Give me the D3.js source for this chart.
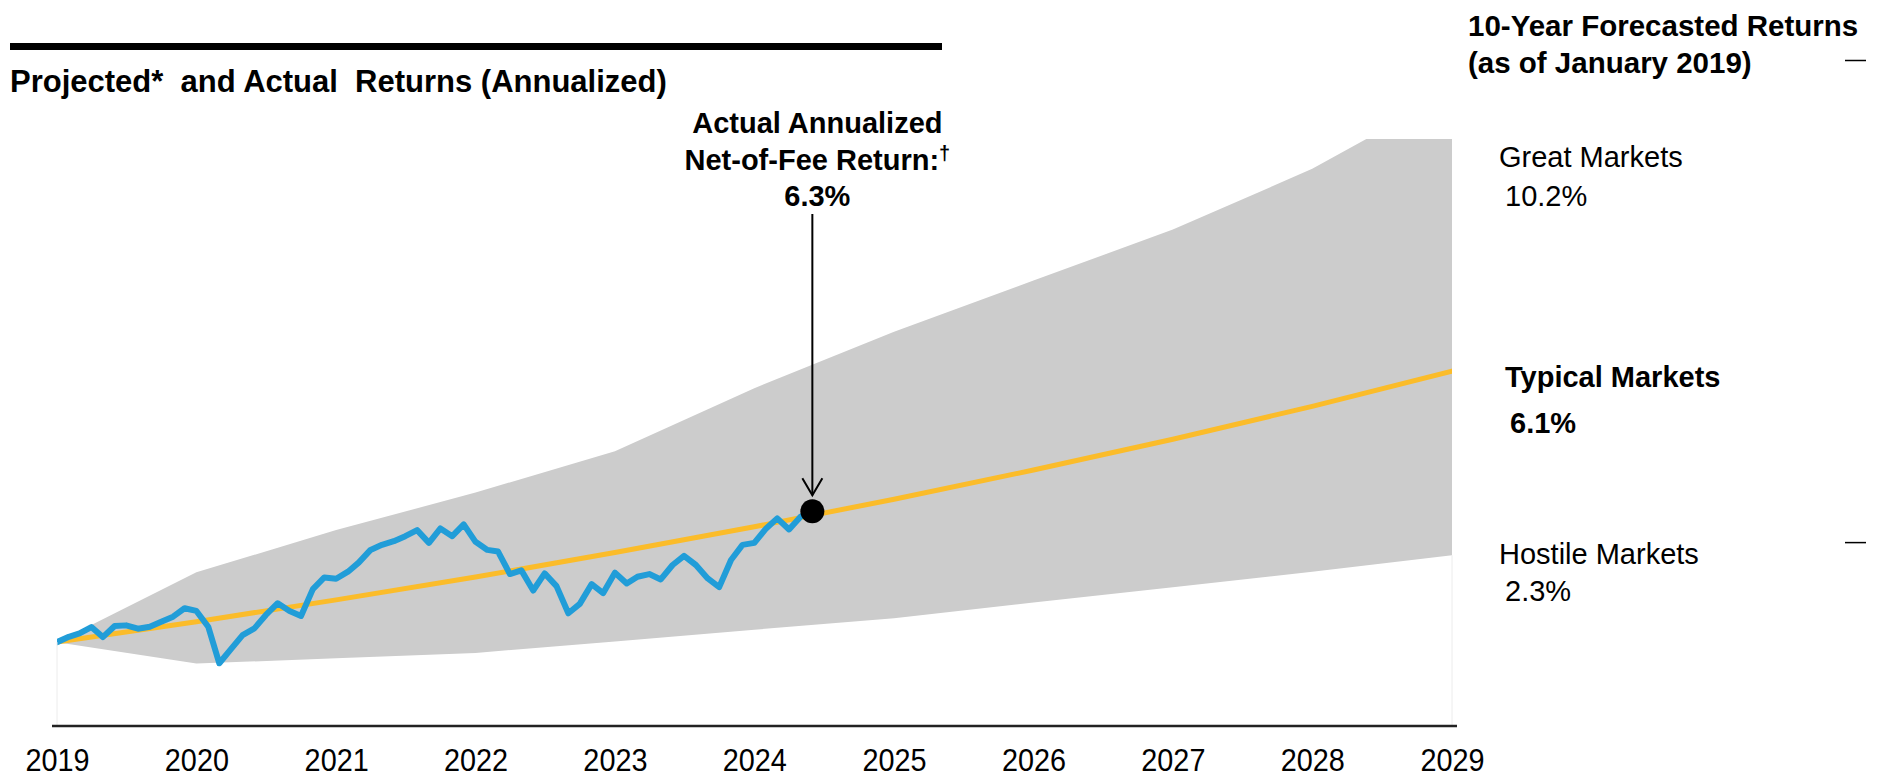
<!DOCTYPE html>
<html>
<head>
<meta charset="utf-8">
<script src="https://cdn.jsdelivr.net/npm/d3@7"></script>
<style>
  html, body { margin: 0; padding: 0; background: #fff; }
  svg { display: block; font-family: "Liberation Sans", Arial, Helvetica, sans-serif; }
</style>
</head>
<body>
<svg id="chart" width="1899" height="778"></svg>
<script>
// Year tick labels along the bottom axis
const years = [2019, 2020, 2021, 2022, 2023, 2024, 2025, 2026, 2027, 2028, 2029];

// Growth of $1 under the forecast scenarios, one value per year-end
const typicalPath = [1.000, 1.061, 1.126, 1.194, 1.267, 1.344, 1.426, 1.513, 1.605, 1.703, 1.808];
const greatPath   = [1.000, 1.208, 1.334, 1.446, 1.569, 1.757, 1.925, 2.078, 2.230, 2.411, 2.641];
const hostilePath = [1.000, 0.936, 0.952, 0.968, 1.002, 1.037, 1.071, 1.118, 1.164, 1.210, 1.259];

// Actual portfolio growth of $1, month-end values starting January 2019
const actualStart = new Date(2019, 0, 1);
const actualMonthly = [
  1.000, 1.016, 1.026, 1.045, 1.015, 1.048, 1.050, 1.040, 1.046, 1.061, 1.076, 1.101,
  1.093, 1.046, 0.937, 0.980, 1.021, 1.041, 1.081, 1.116, 1.093, 1.078, 1.158, 1.193,
  1.189, 1.210, 1.237, 1.275, 1.290, 1.301, 1.316, 1.334, 1.296, 1.339, 1.316, 1.351,
  1.299, 1.275, 1.270, 1.203, 1.214, 1.154, 1.205, 1.167, 1.086, 1.114, 1.173, 1.146,
  1.207, 1.175, 1.195, 1.203, 1.187, 1.230, 1.257, 1.230, 1.190, 1.164, 1.245, 1.290,
  1.296, 1.339, 1.369, 1.336, 1.374, 1.390
];

// Latest actual value and its annualized return label
const actualLatest = 1.390;
const actualAnnualized = "6.3%";

// Scenario labels on the right
const scenarioNames = ["Great Markets", "Typical Markets", "Hostile Markets"];
const scenarioRates = ["10.2%", "6.1%", "2.3%"];

const svg = d3.select("#chart");

const x = d3.scaleTime()
  .domain([new Date(2019, 0, 1), new Date(2029, 0, 1)])
  .range([57, 1452]);
const y = d3.scaleLinear()
  .domain([0.75, 2.5])
  .range([726, 139]);

const yearDate = yr => new Date(yr, 0, 1);
const monthDate = i => d3.timeMonth.offset(actualStart, i);

// Clip the plot contents to the plot area
svg.append("defs").append("clipPath").attr("id", "plot-clip")
  .append("rect")
  .attr("x", x.range()[0]).attr("y", y.range()[1])
  .attr("width", x.range()[1] - x.range()[0])
  .attr("height", y.range()[0] - y.range()[1]);

const plot = svg.append("g").attr("clip-path", "url(#plot-clip)");

// Faint plot-area borders at each end, below the shaded range
[0, years.length - 1].forEach(i => {
  const xx = x(yearDate(years[i]));
  svg.append("line")
    .attr("x1", xx).attr("x2", xx)
    .attr("y1", y(hostilePath[i])).attr("y2", y.range()[0])
    .attr("stroke", "#ececec").attr("stroke-width", 1);
});

// Shaded range between hostile and great market outcomes
const band = years.map((yr, i) => ({ date: yearDate(yr), lo: hostilePath[i], hi: greatPath[i] }));
plot.append("path")
  .datum(band)
  .attr("fill", "#cccccc")
  .attr("d", d3.area()
    .x(d => x(d.date))
    .y0(d => y(d.lo))
    .y1(d => y(d.hi)));

// Typical markets projection
plot.append("path")
  .datum(years.map((yr, i) => ({ date: yearDate(yr), v: typicalPath[i] })))
  .attr("fill", "none")
  .attr("stroke", "#fbbc2a")
  .attr("stroke-width", 5)
  .attr("stroke-linecap", "round")
  .attr("d", d3.line().x(d => x(d.date)).y(d => y(d.v)).curve(d3.curveMonotoneX));

// Actual results
plot.append("path")
  .datum(actualMonthly.map((v, i) => ({ date: monthDate(i), v })))
  .attr("fill", "none")
  .attr("stroke", "#219dd8")
  .attr("stroke-width", 6)
  .attr("stroke-linejoin", "round")
  .attr("stroke-linecap", "round")
  .attr("d", d3.line().x(d => x(d.date)).y(d => y(d.v)));

// Marker at the latest actual value
const lastDate = monthDate(actualMonthly.length - 1);
const dotX = x(lastDate), dotY = y(actualLatest);
svg.append("circle")
  .attr("cx", dotX).attr("cy", dotY).attr("r", 12)
  .attr("fill", "#000");

// Callout arrow pointing down at the marker
const arrowTop = 214, arrowTip = dotY - 16;
svg.append("line")
  .attr("x1", dotX).attr("x2", dotX)
  .attr("y1", arrowTop).attr("y2", arrowTip)
  .attr("stroke", "#000").attr("stroke-width", 2);
svg.append("path")
  .attr("d", `M${dotX - 10},${arrowTip - 17} L${dotX},${arrowTip} L${dotX + 10},${arrowTip - 17}`)
  .attr("fill", "none").attr("stroke", "#000").attr("stroke-width", 2);

// Callout text
const callout = svg.append("text")
  .attr("text-anchor", "middle")
  .attr("font-weight", "bold")
  .attr("font-size", 29)
  .attr("fill", "#000");
callout.append("tspan").attr("x", dotX + 5).attr("y", 133).text("Actual Annualized");
callout.append("tspan").attr("x", dotX + 5).attr("y", 170).text("Net-of-Fee Return:");
callout.append("tspan").attr("font-size", 20).attr("dy", -10).text("†");
callout.append("tspan").attr("x", dotX + 5).attr("y", 206).text(actualAnnualized);

// Bottom axis with year labels
const axis = svg.append("g")
  .attr("transform", `translate(0,${y.range()[0]})`)
  .call(d3.axisBottom(x).tickValues(years.map(yearDate)).tickFormat(d3.timeFormat("%Y")).tickSize(0).tickPadding(23));
axis.select(".domain").remove();
axis.selectAll("text")
  .attr("font-size", 31)
  .attr("font-family", "\"Liberation Sans\", Arial, sans-serif")
  .attr("transform", "scale(0.93,1)")
  .attr("fill", "#000");
svg.append("line")
  .attr("x1", x.range()[0] - 5).attr("x2", x.range()[1] + 5)
  .attr("y1", y.range()[0]).attr("y2", y.range()[0])
  .attr("stroke", "#222").attr("stroke-width", 2.5);

// Title block on the left
svg.append("rect")
  .attr("x", 10).attr("y", 43).attr("width", 932).attr("height", 7)
  .attr("fill", "#000");
svg.append("text")
  .attr("x", 10).attr("y", 92)
  .attr("font-size", 31).attr("font-weight", "bold")
  .attr("xml:space", "preserve")
  .style("white-space", "pre")
  .text("Projected*  and Actual  Returns (Annualized)");

// Header on the right
const header = svg.append("text")
  .attr("font-size", 29.5).attr("font-weight", "bold");
header.append("tspan").attr("x", 1468).attr("y", 36).text("10-Year Forecasted Returns");
header.append("tspan").attr("x", 1468).attr("y", 73).text("(as of January 2019)");

// Short rule marks at the far right
[60.5, 542.6].forEach(yy => {
  svg.append("line")
    .attr("x1", 1845).attr("x2", 1866).attr("y1", yy).attr("y2", yy)
    .attr("stroke", "#000").attr("stroke-width", 1.5);
});

// Scenario labels
const labelRows = [
  { name: scenarioNames[0], rate: scenarioRates[0], nameY: 167, rateY: 206, bold: false },
  { name: scenarioNames[1], rate: scenarioRates[1], nameY: 387, rateY: 433, bold: true },
  { name: scenarioNames[2], rate: scenarioRates[2], nameY: 564, rateY: 601, bold: false }
];
labelRows.forEach(r => {
  svg.append("text")
    .attr("x", r.bold ? 1505 : 1499).attr("y", r.nameY)
    .attr("font-size", 29)
    .attr("font-weight", r.bold ? "bold" : "normal")
    .attr("xml:space", "preserve")
    .style("white-space", "pre")
    .text(r.name);
  svg.append("text")
    .attr("x", r.bold ? 1510 : 1505).attr("y", r.rateY)
    .attr("font-size", 29)
    .attr("font-weight", r.bold ? "bold" : "normal")
    .text(r.rate);
});
</script>
</body>
</html>
